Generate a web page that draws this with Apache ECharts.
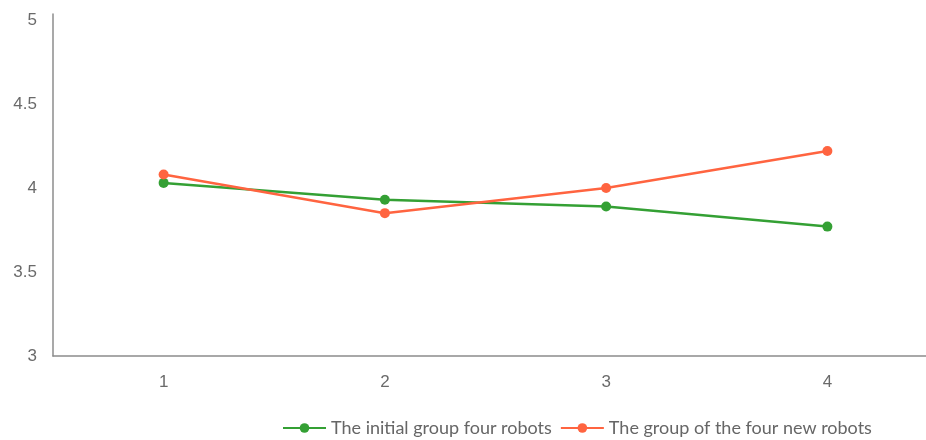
<!DOCTYPE html>
<html>
<head>
<meta charset="utf-8">
<script src="https://cdn.jsdelivr.net/npm/echarts@6/dist/echarts.min.js"></script>
<style>
  html, body { margin: 0; padding: 0; background: #fff; }
  #chart { width: 926px; height: 440px; }
</style>
</head>
<body>
<div id="chart"></div>
<script>
// Rounds of the experiment along the x axis
const categories = ['1', '2', '3', '4'];
// Mean scores of each robot group per round
const initialGroup = [4.03, 3.93, 3.89, 3.77];
const newGroup = [4.08, 3.85, 4.00, 4.22];
const seriesNames = ['The initial group four robots', 'The group of the four new robots'];

const chart = echarts.init(document.getElementById('chart'));
chart.setOption({
  backgroundColor: '#ffffff',
  animation: false,
  // plot area runs past the right edge of the canvas
  grid: { left: 53, width: 885, top: 14, bottom: 84, containLabel: false, outerBoundsMode: 'none' },
  legend: {
    top: 414,
    left: 277,
    itemWidth: 43,
    itemHeight: 12,
    itemGap: 8,
    textStyle: { color: '#666', fontSize: 18, fontFamily: 'Lato, sans-serif' },
    data: seriesNames
  },
  xAxis: {
    type: 'category',
    data: categories,
    boundaryGap: true,
    axisLine: { lineStyle: { color: '#8c8c8c', width: 1.5 } },
    axisTick: { show: false },
    axisLabel: { color: '#6a6a6a', fontSize: 17, fontFamily: 'Liberation Sans, Arial, sans-serif', margin: 18 }
  },
  yAxis: {
    type: 'value',
    min: 3,
    max: 5.035,
    interval: 0.5,
    splitLine: { show: false },
    axisLine: { show: true, lineStyle: { color: '#8c8c8c', width: 1.5 } },
    axisTick: { show: false },
    axisLabel: {
      color: '#6a6a6a', fontSize: 17, fontFamily: 'Liberation Sans, Arial, sans-serif', margin: 16,
      formatter: v => (v > 5 ? '' : String(v))
    }
  },
  series: [
    {
      name: seriesNames[0],
      type: 'line',
      data: initialGroup,
      symbol: 'circle',
      symbolSize: 10,
      itemStyle: { color: '#34a034' },
      lineStyle: { color: '#34a034', width: 2.5 }
    },
    {
      name: seriesNames[1],
      type: 'line',
      data: newGroup,
      symbol: 'circle',
      symbolSize: 10,
      itemStyle: { color: '#ff6440' },
      lineStyle: { color: '#ff6440', width: 2.5 }
    }
  ]
});
</script>
</body>
</html>
